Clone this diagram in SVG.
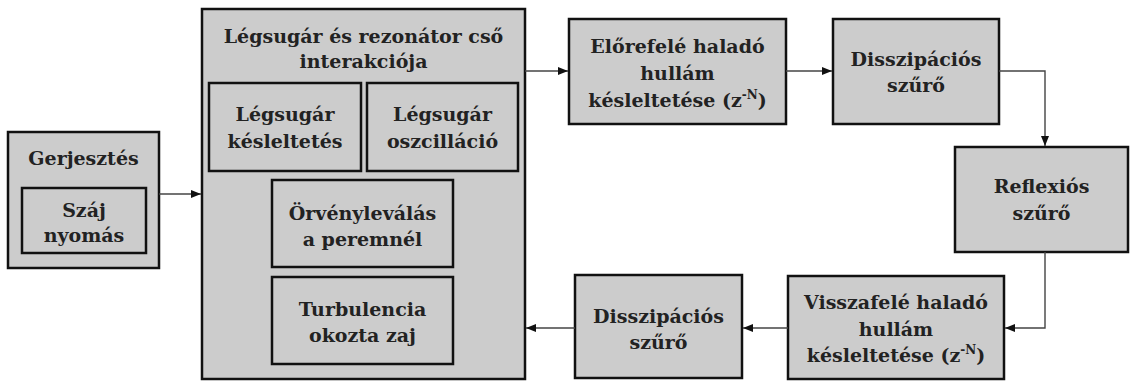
<svg xmlns="http://www.w3.org/2000/svg" width="1131" height="381" viewBox="0 0 1131 381">
<defs>
<marker id="arr" viewBox="0 0 10 10" refX="10" refY="5" markerWidth="10" markerHeight="10" markerUnits="userSpaceOnUse" orient="auto">
<path d="M0,1 L10,5 L0,9 z" fill="#111"/>
</marker>
<style>
.box{fill:#cccccc;stroke:#111;stroke-width:2.5}
.t{font-family:'DejaVu Serif','Liberation Serif',serif;font-weight:bold;font-size:19px;fill:#222;text-anchor:middle}
.sup{font-size:12px}
.c{fill:none;stroke:#444;stroke-width:1.4;marker-end:url(#arr)}
</style>
</defs>
<rect width="1131" height="381" fill="#fff"/>
<g id="gerjesztes">
<rect class="box" x="8" y="132" width="151" height="136"/>
<text class="t" x="83.5" y="165">Gerjesztés</text>
<g id="szaj">
<rect class="box" x="22" y="188" width="124" height="65"/>
<text class="t" x="84" y="217">Száj</text>
<text class="t" x="84" y="242">nyomás</text>
</g>
</g>
<g id="interakcio">
<rect class="box" x="202" y="9" width="323" height="370"/>
<text class="t" x="363.5" y="43">Légsugár és rezonátor cső</text>
<text class="t" x="363.5" y="68">interakciója</text>
<g id="kesleltetes">
<rect class="box" x="209" y="83" width="152" height="88"/>
<text class="t" x="285" y="121">Légsugár</text>
<text class="t" x="285" y="148">késleltetés</text>
</g>
<g id="oszcillacio">
<rect class="box" x="367" y="83" width="151" height="88"/>
<text class="t" x="442.5" y="121">Légsugár</text>
<text class="t" x="442.5" y="148">oszcilláció</text>
</g>
<g id="orvenylevalas">
<rect class="box" x="272" y="180" width="181" height="87"/>
<text class="t" x="362.5" y="220">Örvényleválás</text>
<text class="t" x="362.5" y="246">a peremnél</text>
</g>
<g id="turbulencia">
<rect class="box" x="272" y="277" width="181" height="87"/>
<text class="t" x="362.5" y="316">Turbulencia</text>
<text class="t" x="362.5" y="342">okozta zaj</text>
</g>
</g>
<g id="elorefele">
<rect class="box" x="569" y="19" width="217" height="105"/>
<text class="t" x="677.5" y="53">Előrefelé haladó</text>
<text class="t" x="677.5" y="80">hullám</text>
<text class="t" x="677.5" y="107">késleltetése (z<tspan class="sup" dy="-8">-N</tspan><tspan dy="8">)</tspan></text>
</g>
<g id="disszipacios1">
<rect class="box" x="833" y="19" width="166" height="105"/>
<text class="t" x="916" y="66">Disszipációs</text>
<text class="t" x="916" y="92">szűrő</text>
</g>
<g id="reflexios">
<rect class="box" x="955" y="147" width="173" height="105"/>
<text class="t" x="1041.5" y="193">Reflexiós</text>
<text class="t" x="1041.5" y="220">szűrő</text>
</g>
<g id="visszafele">
<rect class="box" x="788" y="276" width="216" height="103"/>
<text class="t" x="896" y="309">Visszafelé haladó</text>
<text class="t" x="896" y="336">hullám</text>
<text class="t" x="896" y="362">késleltetése (z<tspan class="sup" dy="-8">-N</tspan><tspan dy="8">)</tspan></text>
</g>
<g id="disszipacios2">
<rect class="box" x="575" y="275" width="167" height="103"/>
<text class="t" x="658.5" y="323">Disszipációs</text>
<text class="t" x="658.5" y="349">szűrő</text>
</g>
<g id="connectors">
<path class="c" d="M159,194 H201"/>
<path class="c" d="M525,71 H568"/>
<path class="c" d="M786,71 H832"/>
<path class="c" d="M999,71 H1045 V146"/>
<path class="c" d="M1045,252 V328 H1005"/>
<path class="c" d="M788,328 H743"/>
<path class="c" d="M575,328 H526"/>
</g>
</svg>
